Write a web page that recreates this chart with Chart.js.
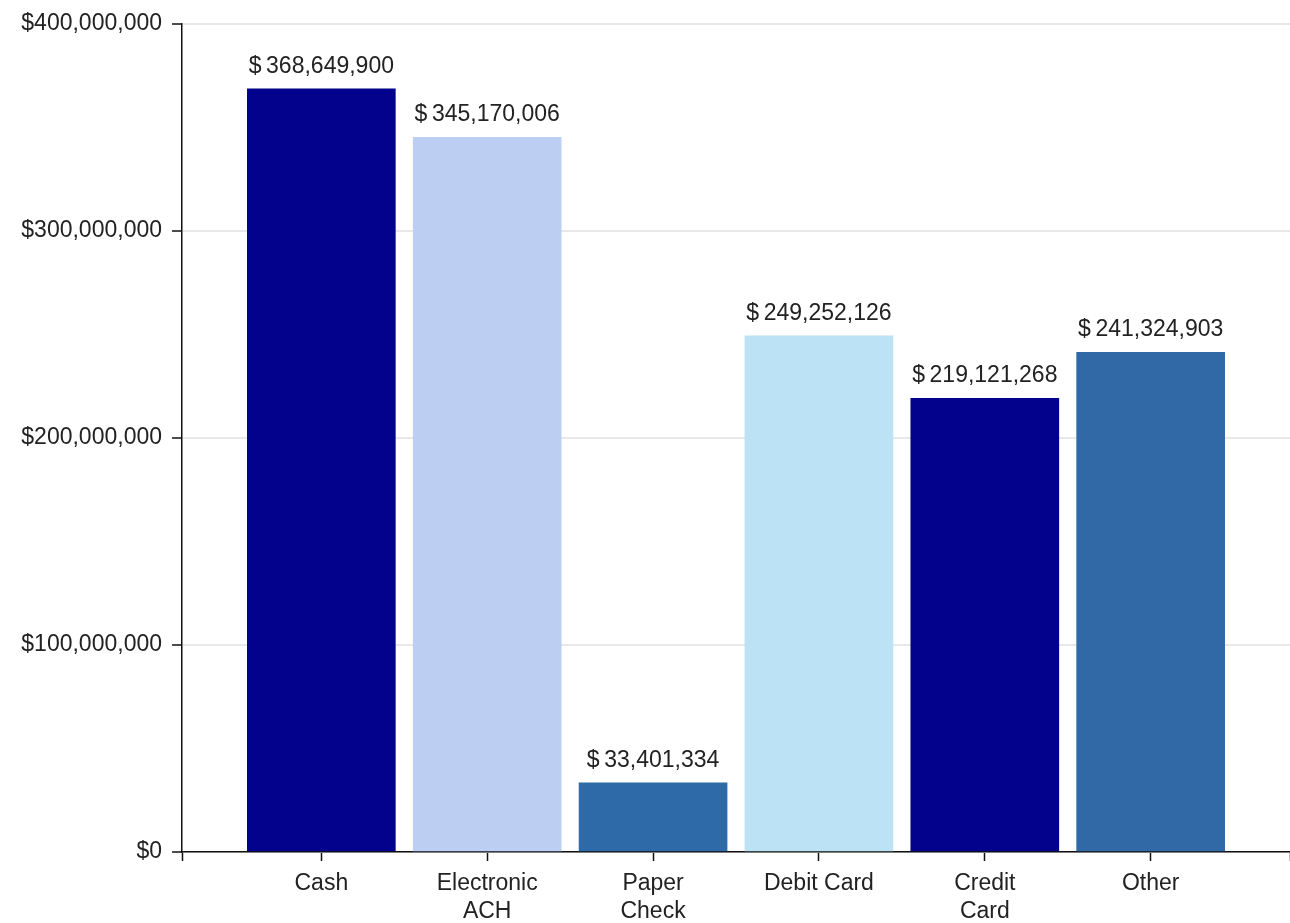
<!DOCTYPE html>
<html>
<head>
<meta charset="utf-8">
<script src="https://cdn.jsdelivr.net/npm/chart.js@4/dist/chart.umd.min.js"></script>
<style>
  html, body { margin: 0; padding: 0; background: #fff; }
  #wrap { width: 1290px; height: 923px; position: relative; }
</style>
</head>
<body>
<div id="wrap"><canvas id="paymentChart"></canvas></div>
<script>
(function () {
    'use strict';

    // ---- data ----
    var categories = [['Cash'], ['Electronic', 'ACH'], ['Paper', 'Check'], ['Debit Card'], ['Credit', 'Card'], ['Other']];
    var amounts = [368649900, 345170006, 33401334, 249252126, 219121268, 241324903];
    var barColors = ['#02028c', '#bccff2', '#2f6aa8', '#bce2f5', '#02028c', '#3169a6'];
    var yTicks = [0, 100000000, 200000000, 300000000, 400000000];

    var xMin = -0.84, xMax = 5.84;
    var font = 'Arial, "Liberation Sans", sans-serif';

    function money(v) {
        return '$' + v.toLocaleString('en-US');
    }

    // value labels above the bars
    var barValues = {
        id: 'barValues',
        afterDatasetsDraw: function (chart) {
            var ctx = chart.ctx;
            var meta = chart.getDatasetMeta(0);
            ctx.save();
            ctx.font = '23px ' + font;
            ctx.fillStyle = '#222';
            ctx.textAlign = 'center';
            ctx.textBaseline = 'alphabetic';
            meta.data.forEach(function (bar, i) {
                ctx.fillText('$\u2009' + amounts[i].toLocaleString('en-US'), bar.x, bar.y - 16);
            });
            ctx.restore();
        }
    };

    new Chart(document.getElementById('paymentChart'), {
        type: 'bar',
        data: {
            datasets: [{
                data: amounts.map(function (v, i) { return { x: i, y: v }; }),
                backgroundColor: barColors,
                borderWidth: 0,
                barThickness: 148
            }]
        },
        options: {
            responsive: true,
            maintainAspectRatio: false,
            animation: false,
            layout: { padding: { top: 21, right: 0, bottom: 0, left: 0 } },
            scales: {
                x: {
                    type: 'linear',
                    min: xMin,
                    max: xMax,
                    offset: false,
                    afterBuildTicks: function (s) {
                        var t = [xMin];
                        categories.forEach(function (c, i) { t.push(i); });
                        t.push(xMax);
                        s.ticks = t.map(function (v) { return { value: v }; });
                    },
                    afterFit: function (s) {
                        s.height = 71;
                        s.paddingLeft = 0;
                        s.paddingRight = 0;
                    },
                    border: { color: '#111', width: 1.5 },
                    grid: { offset: false, drawOnChartArea: false, tickColor: '#111', tickLength: 9, tickWidth: 1.5 },
                    ticks: {
                        autoSkip: false,
                        maxRotation: 0,
                        padding: 9,
                        color: '#222',
                        font: { family: font, size: 23, lineHeight: 1.22 },
                        callback: function (v) {
                            return Number.isInteger(v) && categories[v] ? categories[v] : '';
                        }
                    }
                },
                y: {
                    min: 0,
                    max: 400000000,
                    afterBuildTicks: function (s) {
                        s.ticks = yTicks.map(function (v) { return { value: v }; });
                    },
                    afterFit: function (s) { s.width = 182; },
                    border: { color: '#111', width: 1.5 },
                    grid: { color: '#e8e8e8', lineWidth: 2, tickColor: '#111', tickLength: 10, tickWidth: 1.5 },
                    ticks: {
                        padding: 10,
                        color: '#222',
                        font: { family: font, size: 23 },
                        callback: function (v) { return money(v); }
                    }
                }
            },
            plugins: {
                legend: { display: false },
                tooltip: { enabled: false }
            }
        },
        plugins: [barValues]
    });
})();
</script>
</body>
</html>
